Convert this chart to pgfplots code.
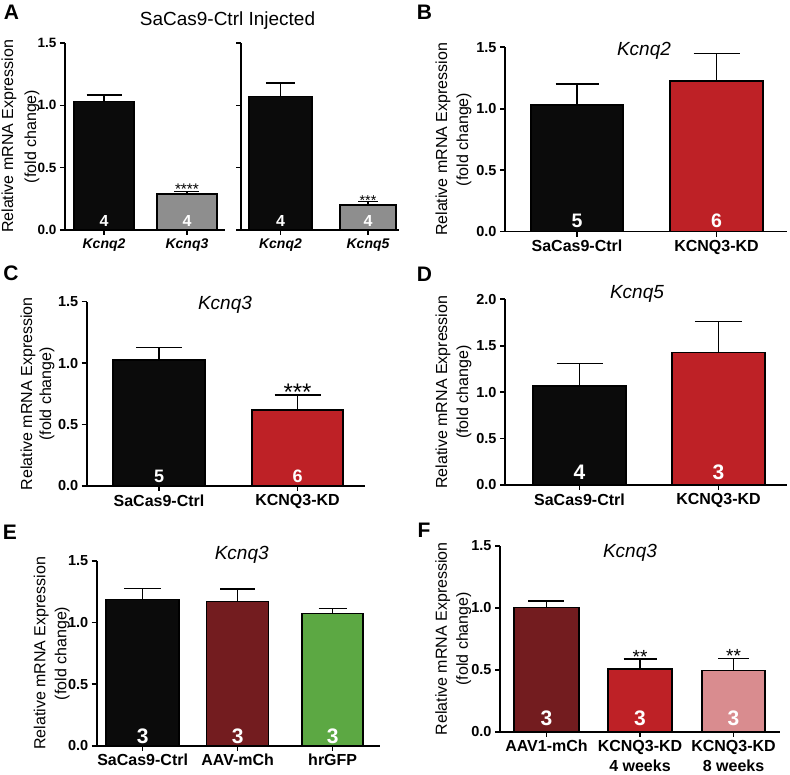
\documentclass[border=0pt]{standalone}
\usepackage{pgfplots}
\pgfplotsset{compat=1.18}
\usepackage{fontspec}
\setmainfont{Liberation Sans}
\definecolor{barblack}{HTML}{0B0B0B}
\definecolor{bargray}{HTML}{8E8E8E}
\definecolor{kdred}{HTML}{BE2126}
\definecolor{darkred}{HTML}{731C1F}
\definecolor{gfpgreen}{HTML}{5CA843}
\definecolor{pinkred}{HTML}{D98C8F}
\pgfplotsset{
  prism/.style={
    scale only axis, clip=false,
    axis lines=left,
    axis line style={-, line width=1.6pt, black},
    tick style={black, line width=1.6pt},
    tick align=outside,
    major tick length=5pt,
    ymin=0, ymax=1.5, ytick={0,0.5,1,1.5},
    yticklabel style={font=\bfseries\fontsize{14.5}{16}\selectfont,
      /pgf/number format/fixed, /pgf/number format/fixed zerofill,
      /pgf/number format/precision=1, /pgf/number format/assume math mode=true},
    xticklabel style={font=\bfseries\fontsize{16}{20}\selectfont, align=center},
    ylabel={Relative mRNA Expression\\(fold change)},
    ylabel style={align=center, font=\fontsize{16}{21}\selectfont, anchor=center},
    ybar,
    error bars/y dir=plus, error bars/y explicit,
    error bars/error bar style={black, line width=1.6pt},
  },
  bb/.style n args={3}{fill=#1, draw=black, line width=1.4pt, bar width=#2pt, bar shift=0pt,
    error bars/error mark options={rotate=90, black, line width=1.6pt, mark size=#3pt}},
}
\tikzset{
  nlab/.style={text=white, font=\bfseries\fontsize{#1}{#1}\selectfont, anchor=base},
  star/.style={font=\fontsize{#1}{#1}\selectfont, anchor=base, inner sep=0pt},
}
\begin{document}
\begin{tikzpicture}
\useasboundingbox (0pt,0pt) rectangle (790pt,774pt);

% ---------- Panel A left
\begin{axis}[prism, at={(65pt,544pt)}, anchor=south west, width=160pt, height=187pt,
  xmin=-0.47, xmax=1.458, xtick={0,1}, xticklabels={Kcnq2,Kcnq3},
  xticklabel style={font=\bfseries\itshape\fontsize{14}{16}\selectfont},
  yticklabel style={font=\bfseries\fontsize{13.5}{15}\selectfont},
  ylabel style={at={(axis description cs:-0.278,0.5)}, font=\fontsize{16}{23}\selectfont}]
\addplot[bb={barblack}{60}{17.5}] coordinates {(0,1.03) +- (0,0.055)};
\addplot[bb={bargray}{60}{12.5}] coordinates {(1,0.29) +- (0,0.02)};
\node[nlab=16, yshift=3.3pt] at (axis cs:0,0) {4};
\node[nlab=16, yshift=3.3pt] at (axis cs:1,0) {4};
\node[star=15.4, yshift=-3.5pt] at (axis cs:1,0.31) {****};
\end{axis}

% ---------- Panel A right
\begin{axis}[prism, at={(241pt,544pt)}, anchor=south west, width=158pt, height=187pt,
  xmin=-0.451, xmax=1.354, xtick={0,1}, xticklabels={Kcnq2,Kcnq5},
  xticklabel style={font=\bfseries\itshape\fontsize{14}{16}\selectfont},
  yticklabels={}, ylabel={}]
\addplot[bb={barblack}{63}{14.5}] coordinates {(0,1.07) +- (0,0.11)};
\addplot[bb={bargray}{56}{10}] coordinates {(1,0.20) +- (0,0.028)};
\node[nlab=16, yshift=3.3pt] at (axis cs:0,0) {4};
\node[nlab=16, yshift=3.3pt] at (axis cs:1,0) {4};
\node[star=14.3, yshift=-3.5pt] at (axis cs:1,0.228) {***};
\end{axis}

% ---------- Panel B
\begin{axis}[prism, at={(505pt,542.3pt)}, anchor=south west, width=282pt, height=184.4pt,
  xmin=-0.516, xmax=1.505, xtick={0,1}, xticklabels={SaCas9-Ctrl,KCNQ3-KD},
  ylabel style={at={(axis description cs:-0.183,0.5)}}]
\addplot[bb={barblack}{92}{21.5}] coordinates {(0,1.031) +- (0,0.17)};
\addplot[bb={kdred}{93}{23}] coordinates {(1,1.226) +- (0,0.224)};
\node[nlab=19.5, yshift=3.7pt] at (axis cs:0,0) {5};
\node[nlab=19.5, yshift=3.7pt] at (axis cs:1,0) {6};
\end{axis}

% ---------- Panel C
\begin{axis}[prism, at={(86.7pt,288pt)}, anchor=south west, width=278pt, height=184.3pt,
  xmin=-0.522, xmax=1.485, xtick={0,1}, xticklabels={SaCas9-Ctrl,KCNQ3-KD},
  ylabel style={at={(axis description cs:-0.177,0.5)}, font=\fontsize{16}{19}\selectfont}]
\addplot[bb={barblack}{92}{23}] coordinates {(0,1.025) +- (0,0.103)};
\addplot[bb={kdred}{91}{23}] coordinates {(1,0.618) +- (0,0.122)};
\node[nlab=18, yshift=3.3pt] at (axis cs:0,0) {5};
\node[nlab=18, yshift=3.3pt] at (axis cs:1,0) {6};
\node[star=24, yshift=-5.3pt] at (axis cs:1,0.74) {***};
\end{axis}

% ---------- Panel D
\begin{axis}[prism, at={(505pt,289pt)}, anchor=south west, width=282pt, height=185.7pt,
  ymax=2, ytick={0,0.5,1,1.5,2},
  xmin=-0.536, xmax=1.493, xtick={0,1}, xticklabels={SaCas9-Ctrl,KCNQ3-KD},
  ylabel style={at={(axis description cs:-0.183,0.5)}}]
\addplot[bb={barblack}{93}{23}] coordinates {(0,1.066) +- (0,0.244)};
\addplot[bb={kdred}{93}{23.5}] coordinates {(1,1.425) +- (0,0.338)};
\node[nlab=21, yshift=5pt] at (axis cs:0,0) {4};
\node[nlab=21, yshift=5pt] at (axis cs:1,0) {3};
\end{axis}

% ---------- Panel E
\begin{axis}[prism, at={(96.7pt,28.3pt)}, anchor=south west, width=283pt, height=184.7pt,
  xmin=-0.484, xmax=2.495, xtick={0,1,2}, xticklabels={SaCas9-Ctrl,AAV-mCh,hrGFP},
  ylabel style={at={(axis description cs:-0.159,0.5)}}]
\addplot[bb={barblack}{73}{18.5}] coordinates {(0,1.189) +- (0,0.089)};
\addplot[bb={darkred}{62}{17.5}] coordinates {(1,1.172) +- (0,0.103)};
\addplot[bb={gfpgreen}{61}{14}] coordinates {(2,1.072) +- (0,0.041)};
\node[nlab=21, yshift=2.7pt] at (axis cs:0,0) {3};
\node[nlab=21, yshift=2.7pt] at (axis cs:1,0) {3};
\node[nlab=21, yshift=2.7pt] at (axis cs:2,0) {3};
\end{axis}

% ---------- Panel F
\begin{axis}[prism, at={(500pt,42.3pt)}, anchor=south west, width=280pt, height=185.7pt,
  xmin=-0.497, xmax=2.497, xtick={0,1,2},
  xticklabels={AAV1-mCh,KCNQ3-KD\\4 weeks,KCNQ3-KD\\8 weeks},
  ylabel style={at={(axis description cs:-0.167,0.5)}}]
\addplot[bb={darkred}{65}{18}] coordinates {(0,1.004) +- (0,0.052)};
\addplot[bb={kdred}{64}{16.5}] coordinates {(1,0.506) +- (0,0.081)};
\addplot[bb={pinkred}{63}{15.5}] coordinates {(2,0.493) +- (0,0.099)};
\node[nlab=21, yshift=6.7pt] at (axis cs:0,0) {3};
\node[nlab=21, yshift=6.7pt] at (axis cs:1,0) {3};
\node[nlab=21, yshift=6.7pt] at (axis cs:2,0) {3};
\node[star=19, yshift=-4.2pt] at (axis cs:1,0.587) {**};
\node[star=19, yshift=-4.2pt] at (axis cs:2,0.592) {**};
\end{axis}

% ---------- titles and panel letters
\node[font=\fontsize{19}{19}\selectfont] at (227.5pt,753pt) {SaCas9-Ctrl Injected};
\node[font=\itshape\fontsize{19}{19}\selectfont] at (644pt,722.7pt) {Kcnq2};
\node[font=\itshape\fontsize{19}{19}\selectfont] at (225pt,469pt) {Kcnq3};
\node[font=\itshape\fontsize{19}{19}\selectfont] at (637pt,480.5pt) {Kcnq5};
\node[font=\itshape\fontsize{19}{19}\selectfont] at (241.7pt,219pt) {Kcnq3};
\node[font=\itshape\fontsize{19}{19}\selectfont] at (630pt,221.5pt) {Kcnq3};
\node[font=\bfseries\fontsize{21}{21}\selectfont] at (11.5pt,761.5pt) {A};
\node[font=\bfseries\fontsize{21}{21}\selectfont] at (424.5pt,761.5pt) {B};
\node[font=\bfseries\fontsize{21}{21}\selectfont] at (11pt,501pt) {C};
\node[font=\bfseries\fontsize{21}{21}\selectfont] at (424.5pt,500pt) {D};
\node[font=\bfseries\fontsize{21}{21}\selectfont] at (10pt,241.5pt) {E};
\node[font=\bfseries\fontsize{21}{21}\selectfont] at (424pt,243.5pt) {F};
\end{tikzpicture}
\end{document}
